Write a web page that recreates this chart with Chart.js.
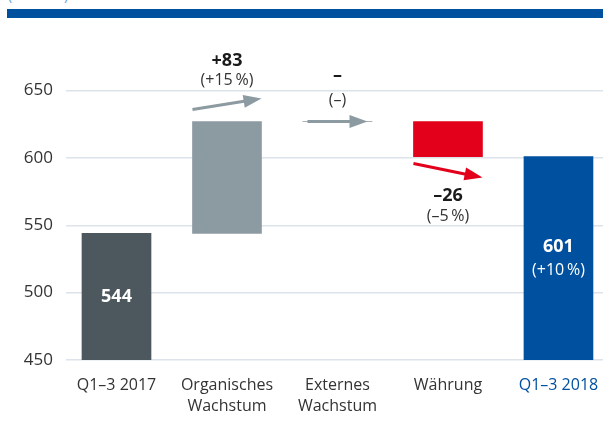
<!DOCTYPE html>
<html>
<head>
<meta charset="utf-8">
<script src="https://cdn.jsdelivr.net/npm/chart.js@4"></script>
<style>
  html, body { margin: 0; padding: 0; background: #fff; overflow: hidden; }
  #wrap { position: relative; width: 603px; height: 435px; }
  #unit { position: absolute; left: 8px; top: -15px; font: 14px "Open Sans", sans-serif; color: #6b9bd2; }
  #band { position: absolute; left: 7px; top: 9px; width: 596px; height: 9px; background: #0050a0; }
  canvas { position: absolute; left: 0; top: 0; }
</style>
</head>
<body>
<div id="wrap">
  <div id="unit">(in Mio €)</div>
  <div id="band"></div>
  <canvas id="chart" width="603" height="435"></canvas>
</div>
<script>
// ─── Data ─────────────────────────────────────────────────────────────────────
const categories = [["Q1\u20133 2017"], ["Organisches", "Wachstum"], ["Externes", "Wachstum"], ["Währung"], ["Q1\u20133 2018"]];
const startValue = 544;
const endValue = 601;
const endLabel = "(+10\u2009%)";
const changes = [83, 0, -26];
const changeText = ["+83", "\u2013", "\u201326"];
const changePct = ["(+15\u2009%)", "(\u2013)", "(\u20135\u2009%)"];
const yTicks = [450, 500, 550, 600, 650];

const colors = ["#4d585e", "#8c9aa2", "#8c9aa2", "#e2001a", "#0050a0"];
const FONT = '"Open Sans", sans-serif';

// floating ranges from the bridge values
const ranges = [[450, startValue]];
let level = startValue;
changes.forEach(c => {
  ranges.push(c >= 0 ? [level, level + c] : [level + c, level]);
  level += c;
});
ranges.push([450, endValue]);
const points = ranges.map((r, i) => ({ x: i, y: r }));

// ─── Arrows and labels ────────────────────────────────────────────────────────
function arrow(ctx, x1, y1, x2, y2, color) {
  const ang = Math.atan2(y2 - y1, x2 - x1);
  const head = 18, half = 6.5;
  ctx.strokeStyle = color;
  ctx.fillStyle = color;
  ctx.lineWidth = 3;
  ctx.beginPath();
  ctx.moveTo(x1, y1);
  ctx.lineTo(x2 - Math.cos(ang) * head * 0.8, y2 - Math.sin(ang) * head * 0.8);
  ctx.stroke();
  ctx.beginPath();
  ctx.moveTo(x2, y2);
  ctx.lineTo(x2 - Math.cos(ang) * head - Math.sin(ang) * half, y2 - Math.sin(ang) * head + Math.cos(ang) * half);
  ctx.lineTo(x2 - Math.cos(ang) * head + Math.sin(ang) * half, y2 - Math.sin(ang) * head - Math.cos(ang) * half);
  ctx.closePath();
  ctx.fill();
}

const annot = {
  id: "annot",
  afterDatasetsDraw(chart) {
    const { ctx, scales: { x, y } } = chart;
    const half = 34.5;
    ctx.save();
    ctx.textAlign = "center";
    ctx.textBaseline = "middle";

    changes.forEach((c, k) => {
      const i = k + 1;
      const cx = x.getPixelForValue(i);
      const top = y.getPixelForValue(ranges[i][1]);
      const bot = y.getPixelForValue(ranges[i][0]);
      let ty1, ty2;
      if (c > 0) {
        arrow(ctx, cx - half, top - 12, cx + half, top - 23, "#8c9aa2");
        ty1 = top - 61; ty2 = top - 41;
      } else if (c === 0) {
        arrow(ctx, cx - 30, top, cx + 30, top, "#8c9aa2");
        ty1 = top - 46; ty2 = top - 21;
      } else {
        arrow(ctx, cx - half, bot + 7, cx + half, bot + 21, "#e2001a");
        ty1 = bot + 39; ty2 = bot + 60;
      }
      ctx.fillStyle = "#1a1a1a";
      ctx.font = "bold 18px " + FONT;
      ctx.fillText(changeText[k], cx, ty1);
      ctx.fillStyle = "#333";
      ctx.font = "16px " + FONT;
      ctx.fillText(changePct[k], cx, ty2);
    });

    // values inside the total bars
    ctx.fillStyle = "#fff";
    const c0 = y.getPixelForValue((ranges[0][0] + ranges[0][1]) / 2);
    ctx.font = "bold 18px " + FONT;
    ctx.fillText(String(startValue), x.getPixelForValue(0), c0);
    const c4 = y.getPixelForValue((ranges[4][0] + ranges[4][1]) / 2);
    ctx.fillText(String(endValue), x.getPixelForValue(4), c4 - 11);
    ctx.font = "16px " + FONT;
    ctx.fillText(endLabel, x.getPixelForValue(4), c4 + 12);
    ctx.restore();
  }
};

// ─── Chart ────────────────────────────────────────────────────────────────────
new Chart(document.getElementById("chart"), {
  type: "bar",
  data: {
    datasets: [{
      data: points,
      backgroundColor: colors,
      borderWidth: 0,
      barThickness: 69
    }]
  },
  options: {
    responsive: false,
    devicePixelRatio: 1,
    animation: false,
    layout: { padding: { top: 20, left: 0, right: 0, bottom: 0 } },
    plugins: { legend: { display: false }, tooltip: { enabled: false } },
    scales: {
      x: {
        type: "linear",
        offset: false,
        min: -0.457,
        max: 4.403,
        afterFit: s => { s.height = 75; s.paddingLeft = 0; s.paddingRight = 0; },
        grid: { display: false },
        border: { display: false },
        ticks: {
          stepSize: 1,
          includeBounds: false,
          autoSkip: false,
          maxRotation: 0,
          padding: 7,
          font: { family: FONT, size: 16, lineHeight: 1.3 },
          color: ctx => ctx.tick && ctx.tick.value === 4 ? "#0050a0" : "#333",
          callback: v => Number.isInteger(v) && categories[v] ? categories[v] : ""
        }
      },
      y: {
        min: 450,
        max: 700,
        afterFit: s => { s.width = 66; },
        border: { display: false },
        grid: {
          drawTicks: false,
          lineWidth: 1.5,
          color: ctx => ctx.tick && yTicks.includes(ctx.tick.value) ? "#dde3ea" : "transparent"
        },
        ticks: {
          stepSize: 50,
          padding: 13,
          font: { family: FONT, size: 17 },
          color: "#333",
          callback: v => yTicks.includes(v) ? v : ""
        }
      }
    }
  },
  plugins: [annot]
});
</script>
</body>
</html>
